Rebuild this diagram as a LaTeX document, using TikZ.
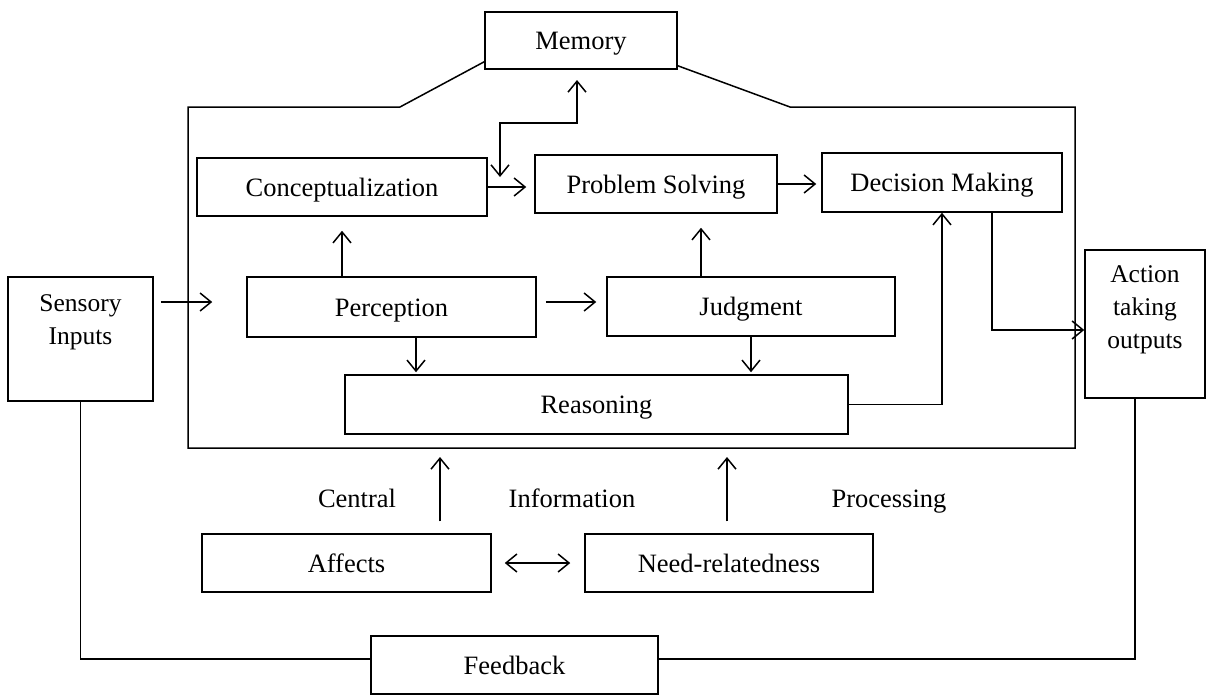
\documentclass[tikz,border=0pt]{standalone}
\usepackage{fontspec}
\newfontfamily\tnr{Liberation Serif}
\usetikzlibrary{arrows.meta,calc}
\begin{document}
\begin{tikzpicture}[x=1pt,y=-1pt,line width=1.5pt,
  box/.style={draw,rectangle,inner sep=0pt,text height=22pt,text depth=4pt,font=\tnr\fontsize{26.5}{30}\selectfont},
  frame/.style={draw,rectangle,inner sep=0pt},
  sidetext/.style={align=center,inner sep=0pt,font=\tnr\fontsize{25.5}{33}\selectfont},
  lbl/.style={inner sep=0pt,anchor=base,font=\tnr\fontsize{26.5}{30}\selectfont},
  arr/.style={-{Straight Barb[length=11pt,width=18pt]}},
  darr/.style={{Straight Barb[length=11pt,width=18pt]}-{Straight Barb[length=11pt,width=18pt]}}]
\useasboundingbox (0,0) rectangle (1207,696);
% nodes
\node[box,minimum width=192pt,minimum height=57pt] (memory) at (581,40.5) {Memory};
\node[box,minimum width=290pt,minimum height=58pt] (concept) at (342,187) {Conceptualization};
\node[box,minimum width=242pt,minimum height=58pt] (problem) at (656,184) {Problem Solving};
\node[box,minimum width=240pt,minimum height=59pt] (decision) at (942,182.5) {Decision Making};
\node[box,minimum width=289pt,minimum height=60pt] (perception) at (391.5,307) {Perception};
\node[box,minimum width=288pt,minimum height=59pt] (judgment) at (751,306.5) {Judgment};
\node[box,minimum width=503pt,minimum height=59pt] (reasoning) at (596.5,404.5) {Reasoning};
\node[frame,minimum width=145pt,minimum height=124pt] (sensory) at (80.5,339) {};
\node[sidetext] (sensorytext) at (80.5,322) {Sensory\\Inputs};
\node[frame,minimum width=120pt,minimum height=148pt] (action) at (1145,324) {};
\node[sidetext] (actiontext) at (1145,310) {Action\\taking\\outputs};
\node[box,minimum width=289pt,minimum height=58pt] (affects) at (346.5,563) {Affects};
\node[box,minimum width=288pt,minimum height=58pt] (need) at (729,563) {Need-relatedness};
\node[box,minimum width=287pt,minimum height=58pt] (feedback) at (514.5,665) {Feedback};
\node[lbl] (central) at (357,507) {Central};
\node[lbl] (information) at (572,507) {Information};
\node[lbl] (processing) at (889,507) {Processing};
% outer frame of central information processing, tied to memory
\draw ($(memory.south west)+(0,-8)$) -- (400,107) -- (188,107) -- (188,448)
      -- (1075,448) -- (1075,107) -- (790,107) -- ($(memory.south east)+(0,-4)$);
\coordinate (memtip) at (577,80);
\coordinate (membend) at (577,123);
\coordinate (memlow) at (500,177);
\draw[darr] (memlow) |- (membend) -- (memtip);
% arrows inside
\coordinate (pr) at ($(perception.south)+(24.5,0)$);
\coordinate (jp) at ($(judgment.north)+(-50,0)$);
\coordinate (pj) at ($(problem.south)+(45,0)$);
\coordinate (da) at ($(decision.south)+(50,0)$);
\draw[arr,shorten >=8pt] (concept.east) -- (concept.east -| problem.west);
\draw[arr,shorten >=5pt] (problem.east) -- (problem.east -| decision.west);
\draw[arr,shorten >=14pt] (concept.south |- perception.north) -- (concept.south);
\draw[arr,shorten >=14pt] (jp) -- (pj);
\draw[arr,shorten <=7pt,shorten >=34pt] ([yshift=5pt]sensory.east |- perception.west) -- ([yshift=5pt]perception.west);
\draw[arr,shorten <=9pt,shorten >=10pt] ([yshift=5pt]perception.east) -- ([yshift=5pt]perception.east -| judgment.west);
\draw[arr,shorten >=2pt] (pr) -- (pr |- reasoning.north);
\draw[arr,shorten >=2pt] (judgment.south) -- (judgment.south |- reasoning.north);
\draw[arr] (reasoning.east) -| (decision.south);
\draw[arr] (da) |- ($(action.west)+(0,6)$);
% affects / need
\coordinate (inA) at (440,448);
\coordinate (inB) at (727,448);
\draw[arr,shorten >=9pt] ($(affects.north)+(93.5,-12)$) -- (inA);
\draw[arr,shorten >=9pt] ($(need.north)+(-2,-12)$) -- (inB);
\draw[darr,shorten <=13pt,shorten >=14pt] (affects.east) -- (need.west);
% feedback loop
\draw (sensory.south) |- ($(feedback.west)+(0,-6)$);
\draw ($(feedback.east)+(0,-6)$) -| ($(action.south)+(-10,0)$);
\end{tikzpicture}
\end{document}
